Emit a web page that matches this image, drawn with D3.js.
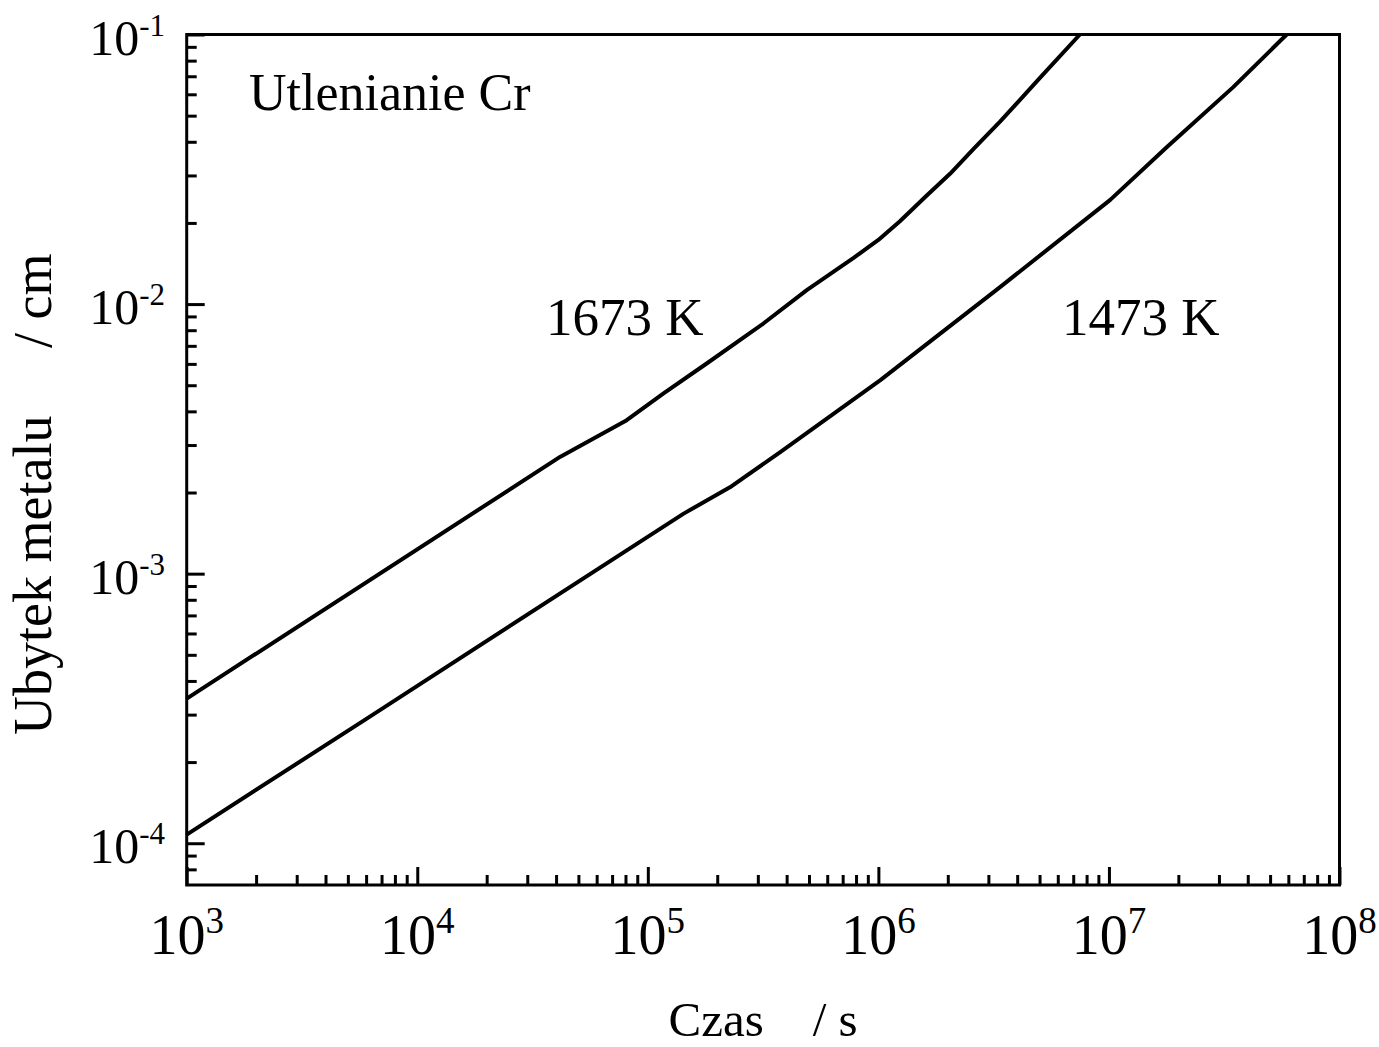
<!DOCTYPE html>
<html>
<head>
<meta charset="utf-8">
<script src="https://cdn.jsdelivr.net/npm/d3@7"></script>
<style>
  body { margin: 0; background: #fff; }
  text { font-family: "Liberation Serif", "Times New Roman", serif; fill: #000; }
</style>
</head>
<body>
<div id="chart"></div>
<script>
// time in s, metal loss in cm
var time_1673 = [1e3, 4.16e4, 8.1e4, 1.17e5, 1.80e5, 3.17e5, 4.89e5, 7.78e5, 1.0e6, 1.24e6, 1.6e6, 2.05e6, 2.6e6, 3.37e6, 5.02e6, 7.48e6];
var loss_1673 = [3.44e-4, 2.71e-3, 3.71e-3, 4.66e-3, 6.02e-3, 8.47e-3, 0.01126, 0.0148, 0.0173, 0.0203, 0.0250, 0.0305, 0.0378, 0.0475, 0.0690, 0.1];

var time_1473 = [1e3, 6.04e3, 1.43e5, 2.27e5, 3.74e5, 1.02e6, 3.37e6, 1.01e7, 1.78e7, 3.46e7, 5.9e7];
var loss_1473 = [1.077e-4, 2.90e-4, 1.67e-3, 2.09e-3, 2.82e-3, 5.22e-3, 0.01156, 0.0243, 0.0382, 0.0638, 0.1];

var x_ticks = [1e3, 1e4, 1e5, 1e6, 1e7, 1e8];
var x_tick_exp = ["3", "4", "5", "6", "7", "8"];
var y_ticks = [1e-4, 1e-3, 1e-2, 1e-1];
var y_tick_exp = ["-4", "-3", "-2", "-1"];

var labels = ["Utlenianie Cr", "1673 K", "1473 K"];

var width = 1379, height = 1047;
var plot_l = 186.7, plot_r = 1339.5, plot_t = 34.5, plot_b = 885;

var svg = d3.select("#chart").append("svg")
    .attr("width", width)
    .attr("height", height);

var x = d3.scaleLog().domain([1e3, 1e8]).range([plot_l, plot_r]);
var y = d3.scaleLog().domain([7e-5, 0.1]).range([plot_b, plot_t]);

// minor ticks 2..9 in each decade
var x_minor = [];
x_ticks.slice(0, -1).forEach(function(d) {
    for (var k = 2; k < 10; k++) x_minor.push(k * d);
});
var y_minor = [];
[1e-5, 1e-4, 1e-3, 1e-2].forEach(function(d) {
    for (var k = 2; k < 10; k++) {
	var v = k * d;
	if (v > 7.05e-5 && v < 0.1) y_minor.push(v);
    }
});

function styleAxis(g) {
    g.select(".domain").remove();
    g.selectAll("line").attr("stroke", "#000").attr("stroke-width", 3);
}

svg.append("g")
    .attr("transform", "translate(0," + plot_b + ")")
    .call(d3.axisBottom(x).tickValues(x_ticks).tickSize(-18).tickFormat(""))
    .call(styleAxis);
svg.append("g")
    .attr("transform", "translate(0," + plot_b + ")")
    .call(d3.axisBottom(x).tickValues(x_minor).tickSize(-10).tickFormat(""))
    .call(styleAxis);
svg.append("g")
    .attr("transform", "translate(" + plot_l + ",0)")
    .call(d3.axisLeft(y).tickValues(y_ticks).tickSize(-18).tickFormat(""))
    .call(styleAxis);
svg.append("g")
    .attr("transform", "translate(" + plot_l + ",0)")
    .call(d3.axisLeft(y).tickValues(y_minor).tickSize(-10).tickFormat(""))
    .call(styleAxis);

// frame
svg.append("rect")
    .attr("x", plot_l)
    .attr("y", plot_t)
    .attr("width", plot_r - plot_l)
    .attr("height", plot_b - plot_t)
    .attr("fill", "none")
    .attr("stroke", "#000")
    .attr("stroke-width", 3);

// tick labels with superscripts
var xl = svg.selectAll(".xlab")
    .data(x_ticks)
    .enter().append("text")
    .attr("class", "xlab")
    .attr("x", function(d) { return x(d); })
    .attr("y", 954)
    .attr("text-anchor", "middle")
    .style("font-size", "56px");
xl.append("tspan").text("10");
xl.append("tspan")
    .attr("dy", -21)
    .style("font-size", "37px")
    .text(function(d, i) { return x_tick_exp[i]; });

var yl = svg.selectAll(".ylab")
    .data(y_ticks)
    .enter().append("text")
    .attr("class", "ylab")
    .attr("x", 165)
    .attr("y", function(d) { return y(d) + 20; })
    .attr("text-anchor", "end")
    .style("font-size", "50px");
yl.append("tspan").text("10");
yl.append("tspan")
    .attr("dy", -19)
    .style("font-size", "31px")
    .text(function(d, i) { return y_tick_exp[i]; });

// axis titles
svg.append("text")
    .attr("x", (plot_l + plot_r) / 2)
    .attr("y", 1036)
    .attr("text-anchor", "middle")
    .style("font-size", "49px")
    .style("white-space", "pre")
    .text("Czas    / s");

svg.append("text")
    .attr("transform", "translate(51,735) rotate(-90)")
    .attr("text-anchor", "start")
    .style("font-size", "54px")
    .style("white-space", "pre")
    .text("Ubytek metalu     / cm");

// curves
var line = d3.line()
    .x(function(d) { return x(d[0]); })
    .y(function(d) { return y(d[1]); });

[[time_1673, loss_1673], [time_1473, loss_1473]].forEach(function(s) {
    svg.append("path")
	.datum(d3.zip(s[0], s[1]))
	.attr("fill", "none")
	.attr("stroke", "#000")
	.attr("stroke-width", 4)
	.attr("stroke-linejoin", "round")
	.attr("d", line);
});

// annotations
svg.append("text").attr("x", 249).attr("y", 109.5).style("font-size", "52px").text(labels[0]);
svg.append("text").attr("x", 546).attr("y", 335).style("font-size", "53px").text(labels[1]);
svg.append("text").attr("x", 1062).attr("y", 335).style("font-size", "53px").text(labels[2]);
</script>
</body>
</html>
